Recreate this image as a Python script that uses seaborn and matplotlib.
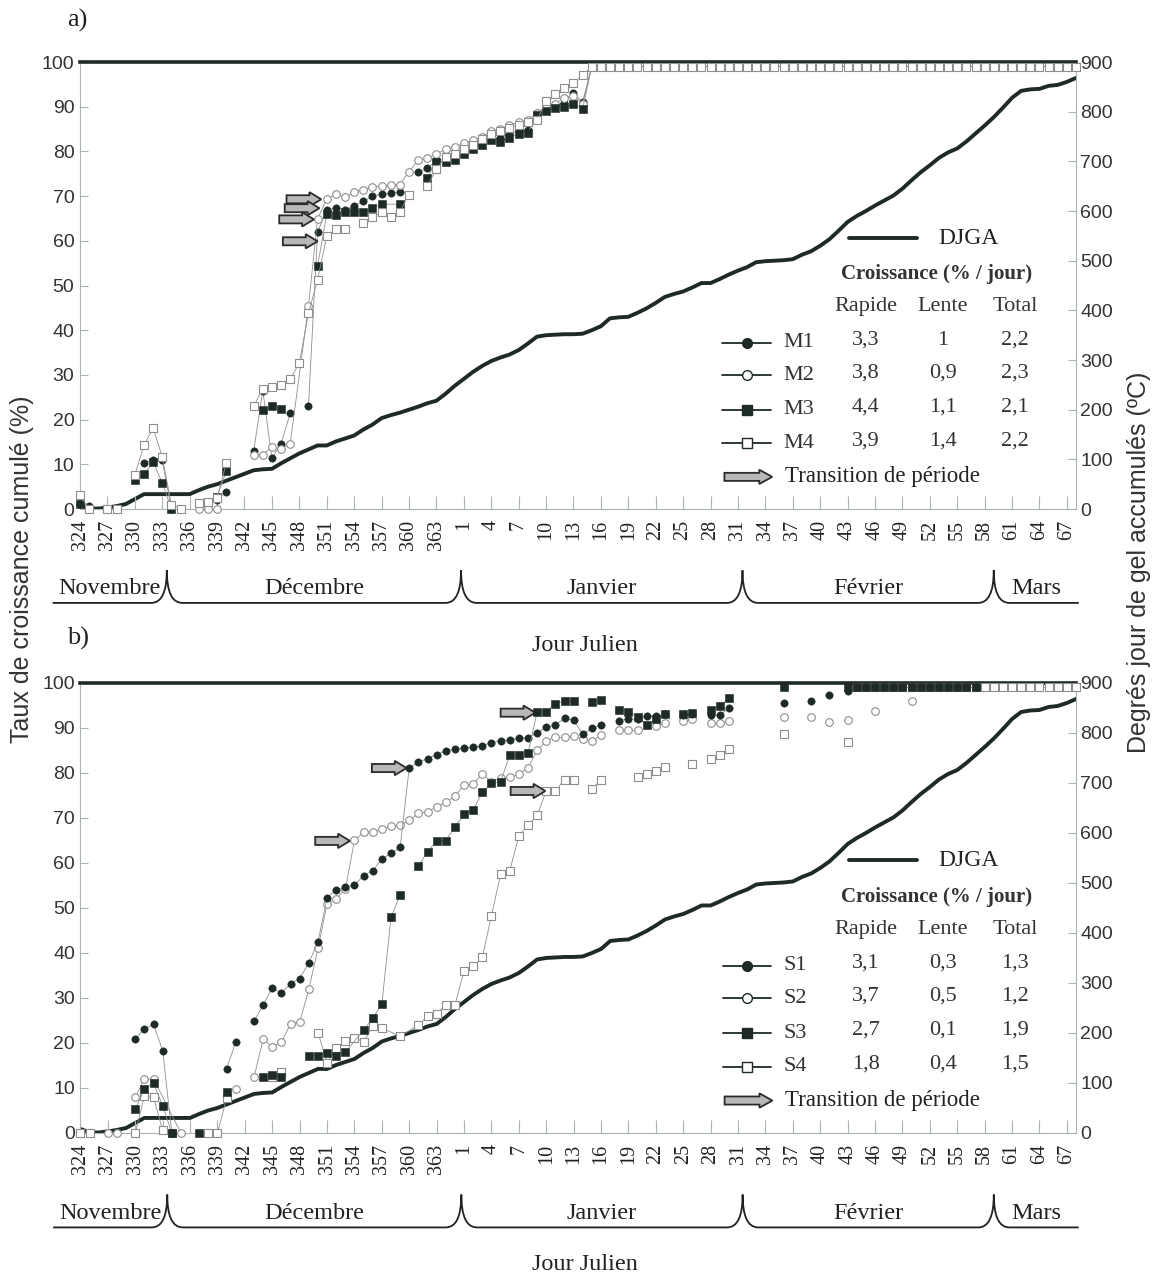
import numpy as np
import pandas as pd
import matplotlib
matplotlib.use("Agg")
import matplotlib.pyplot as plt
import matplotlib.transforms as mtransforms
from matplotlib.path import Path
from matplotlib.patches import PathPatch, FancyArrow
import seaborn as sns

sns.set_theme(style="white")
plt.rcParams['font.family'] = ['Liberation Serif', 'DejaVu Serif']

# ============================================
# DONNEES
# ============================================
# degres-jour de gel accumules (DJGA), un point par jour, du jour 324 au jour 68
djga_jours = list(range(324, 366)) + list(range(1, 69))
djga_vals = [8, 1, 1, 3, 6, 10, 20, 30, 30, 30, 30, 30, 30, 38, 45, 50, 57, 64, 71, 78,
             80, 81, 92, 102, 112, 120, 128, 128, 136, 142, 148, 160, 170, 183, 189, 194,
             200, 206, 213, 218, 232, 248, 262, 276, 288, 298, 305, 311, 320, 333, 347,
             350, 351, 352, 352, 353, 360, 368, 384, 386, 387, 395, 404, 415, 427, 433,
             438, 446, 455, 455, 463, 472, 480, 487, 497, 499, 500, 501, 503, 512, 519,
             530, 543, 560, 578, 590, 600, 611, 621, 631, 645, 662, 678, 692, 707, 718,
             726, 740, 756, 772, 789, 808, 828, 842, 845, 846, 852, 854, 860, 868]

# croissance cumulee (%) : series de (jour de debut, valeurs journalieres consecutives)
# None = jour sans point, la ligne continue quand meme
m1 = [(324, [1.2, 0.7]), (331, [10.3, 11.0, 10.9, 0]), (339, [2.0, 3.9]),
      (343, [12.9, 26.5, 11.4, 14.6, 21.4]),
      (349, [23.0, 62.0, 67.0, 67.3, 67.0, 67.9, 68.8, 70.0, 70.4, 70.7, 71.0]),
      (361, [75.3, 76.2, 78.0, 78.2, 78.5, 80.0, 81.0, 82.0, 83.0, 83.0, 83.8, 84.5,
             84.8, 88.5, 89.5, 90.3, 90.8, 93.0, 91.0] + [99] * 53)]
m2 = [(337, [0, 0, 0]),
      (343, [12.2, 12.2, 13.9, 13.5, 14.6, None, 45.4, 64.9, 69.4, 70.5, 69.7, 71.0,
             71.4, 72.0, 72.3, 72.5, 72.6, 75.5, 78.0, 78.5, 79.4, 80.5, 81.0, 81.8,
             82.5, 83.3, 84.5, 85.0, 86.0, 86.5, 87.0, 88.5, 90.0, 90.7, 92.0, 92.5,
             90.7] + [99] * 53)]
m3 = [(324, [1.1]), (330, [6.5, 7.8, 10.5, 5.9, 0]), (338, [1.5, 2.8, 8.4]),
      (344, [22.1, 23.0, 22.3]),
      (350, [54.4, 66.0, 65.8, 66.4, 66.4, 66.5, 67.3, 68.2, None, 68.2]),
      (362, [74.1, 77.7, 77.7, 78.0, 79.5, 80.5, 81.5, 82.5, 82.2, 83.1, 83.9, 84.2,
             88.2, 89.1, 89.7, 90.0, 90.6, 89.5] + [99] * 53)]
m4 = [(324, [3.1, 0]), (327, [0, 0]), (330, [7.6, 14.3, 18.1, 11.7, 1.0, 0]),
      (337, [1.3, 1.6, 2.5, 10.2]),
      (343, [23.0, 26.9, 27.4, 27.7, 29.0, 32.7, 43.8, 51.3, 61.0, 62.6, 62.6]),
      (355, [63.9, 65.4, 66.4, 65.4, 66.5, 70.3]),
      (362, [72.3, 76.0, 78.7, 79.4, 80.5, 81.5, 82.8, 84.0, 84.5, 85.3, 86.0, 86.5,
             87.0, 91.3, 92.8, 94.2, 95.4, 97.0] + [99] * 54)]

s1 = [(330, [20.9, 23.2, 24.1, 18.3, 0]), (340, [14.3, 20.2]),
      (343, [24.8, 28.5, 32.2, 31.1, 33.2, 34.3, 37.8, 42.4, 52.3, 54.1, 54.6, 55.1,
             57.2, 58.3, 60.8, 62.2, 63.5, 81.2, 82.4, 83.2, 84.1, 84.9, 85.3, 85.6,
             85.7, 86.1, 86.7, 87.2, 87.3, 87.8, 87.8, 88.9, 90.2, 90.6, 92.3, 91.7,
             88.6, 90.0, 90.6]),
      (18, [91.6, 92.1, 91.9, 92.6, 92.6, 93.1]), (25, [92.9, 93.1]),
      (28, [92.9, 92.9, 94.4]), (36, [95.6]), (39, [96.1]), (41, [97.4]), (43, [98.3]),
      (44, [99] * 14)]
s2 = [(327, [0, 0]), (330, [7.95, 12.0, 12.0, None, None, 0]), (341, [9.7]),
      (343, [12.4, 20.8, 19.2, 20.1, 24.3, 24.6, 31.9, 41.0, 50.9, 52.1, 54.2, 65.0,
             66.8, 66.9, 67.5, 68.2, 68.4, 69.5, 71.0, 71.4, 72.5, 73.5, 74.8, 77.4,
             77.5, 79.8, 78.1, 78.9, 79.0, 79.8, 81.2, 85.0, 87.2, 87.9, 87.9, 88.2,
             87.5, 87.1, 88.4]),
      (18, [89.6, 89.6, 89.6]), (22, [90.4, 91.0]), (25, [91.6, 91.9]),
      (28, [91.0, 91.0, 91.6]), (36, [92.5]), (39, [92.5]), (41, [91.4]), (43, [91.7]),
      (46, [93.8]), (50, [96.1]), (51, [99] * 7)]
s3 = [(330, [5.3, 9.7, 11.1, 6.0, 0]), (337, [0]), (340, [9.2]), (344, [12.4, 12.8, 12.4]),
      (349, [17.2, 17.2, 17.8, 17.2, 18.0, None, 22.8, 25.5, 28.7, 47.9, 52.9]),
      (361, [59.4, 62.5, 64.9, 64.9, 68.1, 70.8, 71.8, 75.7, 77.7, 78.1, 83.9, 84.1,
             84.4, 93.6, 93.6, 95.4, 96.0, 96.0]),
      (15, [95.8, 96.3]), (18, [94.1, 93.6, 92.5, 90.6, 92.1, 93.1]), (25, [93.1, 93.4]),
      (28, [94.1, 94.9, 96.6]), (36, [99.1]), (43, [99.1]), (44, [99] * 14)]
s4 = [(324, [0, 0]), (330, [0, 8.2, 7.9, 0.6, 0]), (338, [0, 0, 7.7]), (345, [12.4, 13.5]),
      (350, [22.3, 15.6, 18.8, 20.5, 21.1, 20.3, 23.7, 23.3, None, 21.5, None, 24.0,
             25.9, 26.5, 28.5, 28.5, 36.0, 37.0, 39.0, 48.3, 57.5, 58.3, 66.0, 68.4,
             70.6, 76.0, 76.1, 78.5, 78.5]),
      (15, [76.5, 78.5]), (20, [79.0, 79.7, 80.5, 81.4]), (26, [82.1]),
      (28, [83.1, 83.9, 85.4]), (36, [88.6]), (43, [86.9]), (44, [99] * 25)]

# taux de croissance du tableau (% / jour) : rapide, lente, total
noms_a = ["M1", "M2", "M3", "M4"]
rapide_a = ["3,3", "3,8", "4,4", "3,9"]
lente_a = ["1", "0,9", "1,1", "1,4"]
total_a = ["2,2", "2,3", "2,1", "2,2"]
noms_b = ["S1", "S2", "S3", "S4"]
rapide_b = ["3,1", "3,7", "2,7", "1,8"]
lente_b = ["0,3", "0,5", "0,1", "0,4"]
total_b = ["1,3", "1,2", "1,9", "1,5"]

# fleches de transition de periode : (jour de la pointe, % )
fleches_a = [(350.4, 69.3), (350.2, 67.3), (349.6, 64.8), (350.0, 59.9)]
fleches_b = [(359.7, 81.1), (353.5, 64.9), (8.8, 93.4), (9.9, 76.0)]

ticks_jours = list(range(324, 364, 3)) + list(range(1, 68, 3))
mois = ["Novembre", "Décembre", "Janvier", "Février", "Mars"]
mois_bornes = [333.5, 365.7, 31.5, 59]

# ============================================
# STYLE
# ============================================
FONCE = '#1e2a25'
GRIS = '#8e8e8e'
AXE = '#a9b5b1'
SANS = ['Liberation Sans', 'DejaVu Sans']


def indice(jour):
    return jour - 324 if jour >= 324 else jour + 41


def points(runs):
    rows = []
    for s, (debut, vals) in enumerate(runs):
        i0 = indice(debut)
        for k, v in enumerate(vals):
            if v is not None:
                rows.append((i0 + k, v, s))
    return pd.DataFrame(rows, columns=['x', 'y', 'seg'])


def tracer_serie(ax, runs, marker, plein, z):
    df = points(runs)
    sns.lineplot(data=df, x='x', y='y', units='seg', estimator=None, sort=False,
                 color=GRIS, linewidth=0.6, ax=ax, legend=False, zorder=z)
    if plein:
        sns.scatterplot(data=df, x='x', y='y', marker=marker, s=28, color=FONCE,
                        edgecolor=FONCE, linewidth=0.4, ax=ax, legend=False,
                        zorder=z + 0.5, clip_on=False)
    else:
        sns.scatterplot(data=df, x='x', y='y', marker=marker, s=30, color='white',
                        edgecolor=GRIS, linewidth=0.8, ax=ax, legend=False,
                        zorder=z + 0.5, clip_on=False)


def fleche(ax, x, y, dx, w, hw, hl, trans):
    ax.add_patch(FancyArrow(x, y, dx, 0, width=w, head_width=hw, head_length=hl,
                            length_includes_head=True, facecolor='#b8b8b8',
                            edgecolor='#2b2b2b', linewidth=1.3, transform=trans,
                            clip_on=False, zorder=6))


def accolades(ax):
    trans = mtransforms.blended_transform_factory(ax.transData, ax.transAxes)
    bornes = [indice(j) for j in mois_bornes]
    haut, bas, w = -0.137, -0.21, 1.7
    gauche, droite = -3.0, 109.3
    verts = [(gauche, bas)]
    codes = [Path.MOVETO]
    for b in bornes:
        verts += [(b - w, bas), (b, bas), (b, haut), (b, bas), (b + w, bas)]
        codes += [Path.LINETO, Path.CURVE3, Path.CURVE3, Path.CURVE3, Path.CURVE3]
    verts.append((droite, bas))
    codes.append(Path.LINETO)
    ax.add_patch(PathPatch(Path(verts, codes), facecolor='none', edgecolor='#222',
                           linewidth=1.3, transform=trans, clip_on=False))
    limites = [gauche] + bornes + [droite]
    for i, nom in enumerate(mois):
        ax.text((limites[i] + limites[i + 1]) / 2, -0.178, nom, transform=trans,
                ha='center', va='center', fontsize=17.5, color='#222')


def panneau(rect, series, noms, rapide, lente, total, fleches):
    ax = fig.add_axes(rect)
    ax2 = ax.twinx()
    ax.set_zorder(ax2.get_zorder() + 1)
    ax.patch.set_visible(False)

    sns.lineplot(x=[indice(j) for j in djga_jours], y=djga_vals, ax=ax2, color=FONCE,
                 linewidth=2.8)

    for runs, marker, plein, z in series:
        tracer_serie(ax, runs, marker, plein, z)

    for jour, y in fleches:
        xt = indice(jour)
        fleche(ax, xt - 3.8, y, 3.8, 1.8, 3.2, 1.3, ax.transData)

    ax.set_xlim(0, 109)
    ax.set_ylim(0, 100)
    ax2.set_ylim(0, 900)
    ax.set_xlabel('')
    ax.set_ylabel('')
    ax2.set_ylabel('')
    ax.set_xticks([indice(j) for j in ticks_jours])
    ax.set_xticklabels([str(j) for j in ticks_jours], rotation=90, fontsize=14.5,
                       color='#222')
    ax.set_yticks(range(0, 101, 10))
    ax.set_yticklabels([str(v) for v in range(0, 101, 10)], family=SANS,
                       fontsize=14, color='#333')
    ax2.set_yticks(range(0, 901, 100))
    ax2.set_yticklabels([str(v) for v in range(0, 901, 100)], family=SANS,
                        fontsize=14, color='#333')
    ax.tick_params(axis='x', direction='in', length=9.5, width=0.8, color=AXE, pad=8,
                   bottom=True)
    ax.tick_params(axis='y', direction='in', length=6, width=0.8, color=AXE, pad=4,
                   left=True)
    ax2.tick_params(axis='y', direction='in', length=6, width=0.8, color=AXE, pad=3,
                    right=True)

    for s in ['left', 'bottom']:
        ax.spines[s].set_color(AXE)
        ax.spines[s].set_linewidth(0.8)
    ax.spines['right'].set_visible(False)
    ax.spines['top'].set_color(FONCE)
    ax.spines['top'].set_linewidth(2.6)
    for s in ['left', 'bottom', 'top']:
        ax2.spines[s].set_visible(False)
    ax2.spines['right'].set_color(AXE)
    ax2.spines['right'].set_linewidth(0.8)

    accolades(ax)

    # legende
    T = ax.transAxes
    ax.plot([0.772, 0.840], [0.606, 0.606], transform=T, color=FONCE, lw=2.8,
            clip_on=False)
    ax.text(0.862, 0.606, "DJGA", transform=T, ha='left', va='center', fontsize=17,
            color='#222')
    ax.text(0.860, 0.525, "Croissance (% / jour)", transform=T, ha='center',
            va='center', fontsize=15, fontweight='bold', color='#333')
    cols = [0.789, 0.866, 0.939]
    for c, h in zip(cols, ["Rapide", "Lente", "Total"]):
        ax.text(c, 0.452, h, transform=T, ha='center', va='center', fontsize=16,
                color='#333')
    ys = [0.372, 0.299, 0.222, 0.147]
    styles = [('o', True), ('o', False), ('s', True), ('s', False)]
    for i in range(4):
        y = ys[i]
        marker, plein = styles[i]
        ax.plot([0.645, 0.694], [y, y], transform=T, color=FONCE, lw=1.3,
                clip_on=False)
        ax.plot([0.6695], [y], transform=T, marker=marker, markersize=7,
                markerfacecolor=FONCE if plein else 'white', markeredgecolor=FONCE,
                markeredgewidth=1.0, linestyle='none', clip_on=False)
        ax.text(0.706, y, noms[i], transform=T, ha='left', va='center', fontsize=16,
                color='#333')
        for c, v in zip(cols, [rapide[i], lente[i], total[i]]):
            ax.text(c, y + 0.006, v, transform=T, ha='center', va='center',
                    fontsize=16, color='#333')
    fleche(ax, 0.647, 0.072, 0.048, 0.018, 0.032, 0.013, T)
    ax.text(0.708, 0.072, "Transition de période", transform=T, ha='left',
            va='center', fontsize=16.5, color='#222')
    return ax


fig = plt.figure(figsize=(11.58, 12.79), dpi=100)

serie_a = [(m1, 'o', True, 3), (m2, 'o', False, 4), (m3, 's', True, 5),
           (m4, 's', False, 6)]
serie_b = [(s4, 's', False, 3), (s2, 'o', False, 4), (s1, 'o', True, 5),
           (s3, 's', True, 6)]

panneau([0.0691, 0.6020, 0.8601, 0.3495], serie_a, noms_a, rapide_a, lente_a, total_a,
        fleches_a)
panneau([0.0695, 0.1142, 0.8597, 0.3518], serie_b, noms_b, rapide_b, lente_b, total_b,
        fleches_b)

fig.text(0.058, 0.984, "a)", fontsize=19, ha='left', va='center', color='#222')
fig.text(0.058, 0.501, "b)", fontsize=19, ha='left', va='center', color='#222')
fig.text(0.505, 0.4955, "Jour Julien", fontsize=17.5, ha='center', va='center',
         color='#222')
fig.text(0.505, 0.011, "Jour Julien", fontsize=17.5, ha='center', va='center',
         color='#222')
fig.text(0.019, 0.555, "Taux de croissance cumulé (%)", rotation=90, fontsize=18,
         family=SANS, ha='center', va='center', color='#333')
fig.text(0.984, 0.56, "Degrés jour de gel accumulés (ºC)", rotation=90, fontsize=18,
         family=SANS, ha='center', va='center', color='#333')

fig.savefig("out.png", dpi=100)
